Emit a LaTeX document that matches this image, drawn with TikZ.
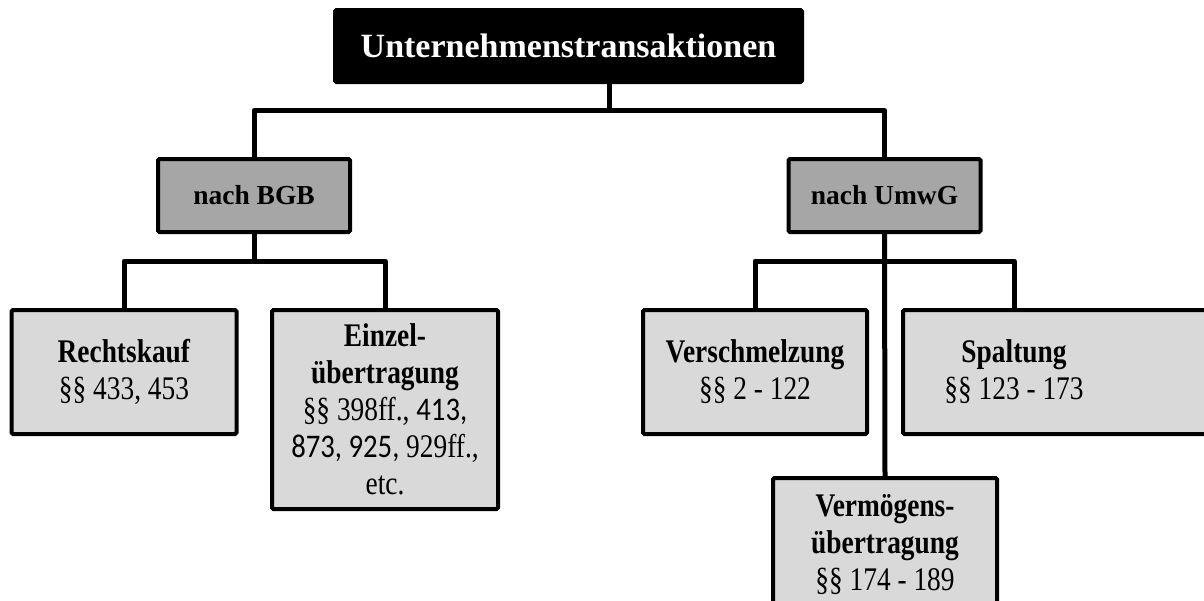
\documentclass[tikz,border=0pt]{standalone}
\usepackage{fontspec}
\setmainfont{Liberation Serif}
\newfontfamily\leaffont[FakeStretch=0.83]{Liberation Serif}
\newfontfamily\numsans[FakeStretch=0.87]{Carlito}
\newcommand\sansnums[1]{{\numsans\fontsize{33pt}{37pt}\selectfont #1}}
\begin{document}
\begin{tikzpicture}[x=1pt,y=-1pt,
  every node/.style={inner sep=0pt, outer sep=0pt, align=center},
  box/.style={draw=black, line width=4pt, rounded corners=1.5pt},
  topbox/.style={box, fill=black, text=white,
    minimum width=467pt, minimum height=72pt,
    font=\fontsize{34pt}{37pt}\selectfont\bfseries},
  midbox/.style={box, fill=midgray,
    minimum width=192pt, minimum height=73pt,
    font=\fontsize{27.5pt}{33pt}\selectfont\bfseries},
  leafbox/.style={box, fill=leafgray,
    minimum width=225pt, minimum height=124pt,
    font=\leaffont\fontsize{33pt}{37pt}\selectfont},
  leaftext/.style={font=\leaffont\fontsize{33pt}{37pt}\selectfont},
  link/.style={line width=5pt, line join=round}]
\definecolor{midgray}{HTML}{A6A6A6}
\definecolor{leafgray}{HTML}{D9D9D9}
\clip (0,0) rectangle (1204,600);
\fill[white] (0,0) rectangle (1204,600);

% root
\node[topbox] (top) at (568.5,46) {Unternehmenstransaktionen};

% second level
\node[midbox] (bgb)  at (254,195.5)   {nach BGB};
\node[midbox] (umwg) at (884.5,195.5) {nach UmwG};

% leaves under BGB
\node[leafbox] (rk) at (124,372) {\textbf{Rechtskauf}\\§§ 433, 453};
\node[leafbox, minimum width=226pt, minimum height=199pt] (ez) at (385,409.5)
  {\textbf{Einzel-}\\\textbf{übertragung}\\§§ 398ff., \sansnums{413,}\\\sansnums{873, 925,} 929ff.,\\etc.};

% leaves under UmwG
\node[leafbox, minimum width=224pt] (vs) at (755,372) {\textbf{Verschmelzung}\\§§ 2 - 122};
\node[leafbox, minimum width=320pt] (sp) at (1063,372) {};
\node[leaftext] (sptext) at (1014,372) {\textbf{Spaltung}\\§§ 123 - 173};
\node[leafbox, minimum width=224pt, minimum height=134pt] (vu) at (885,545)
  {\textbf{Vermögens-}\\\textbf{übertragung}\\§§ 174 - 189};

% junction points of the tree lines
\coordinate (j0) at (609,110.5);
\coordinate (j1) at (254,261);
\coordinate (j2) at (884.5,261);

% connectors
\draw[link] (j0 |- top.south) -- (j0);
\draw[link] (bgb.north) |- (j0) -| (umwg.north);
\draw[link] (bgb.south) -- (j1);
\draw[link] (rk.north) |- (j1) -| (ez.north);
\draw[link] (umwg.south) -- (vu.north);
\draw[link] (vs.north) |- (j2) -| (sptext.north |- sp.north);
\end{tikzpicture}
\end{document}
